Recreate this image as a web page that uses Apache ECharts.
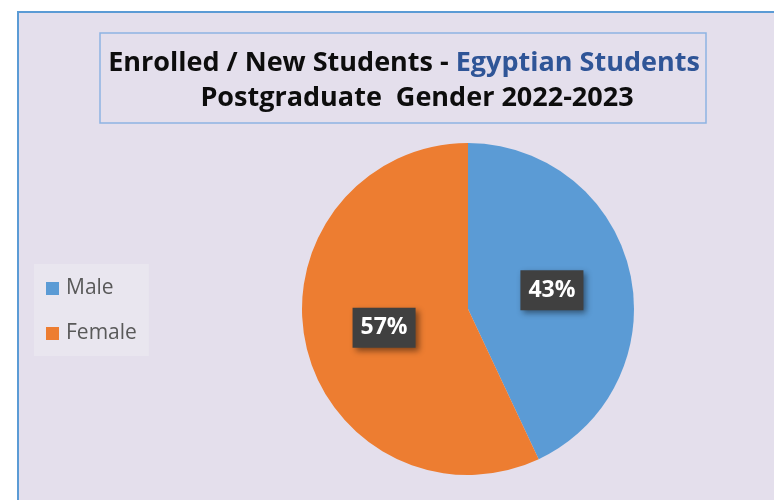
<!DOCTYPE html>
<html>
<head>
<meta charset="utf-8">
<script src="https://cdn.jsdelivr.net/npm/echarts@6/dist/echarts.min.js"></script>
<style>
  html, body { margin: 0; padding: 0; background: #ffffff; }
  #chart { width: 774px; height: 500px; }
</style>
</head>
<body>
<div id="chart"></div>
<script>
(function() {
  var categories = ['Male', 'Female'];
  var shares = [43, 57];
  var colors = ['#5B9BD5', '#ED7D31'];

  var chart = echarts.init(document.getElementById('chart'));

  var titleFont = { fontFamily: 'Open Sans', fontWeight: 'bold', fontSize: 27, color: '#0D0D0D', lineHeight: 37 };

  chart.setOption({
    backgroundColor: '#ffffff',
    animation: false,
    graphic: [
      {
        type: 'rect',
        z: -10,
        shape: { x: 18, y: 12, width: 800, height: 600 },
        style: { fill: '#E4DFEC', stroke: '#5B9BD5', lineWidth: 2 }
      },
      {
        type: 'rect',
        z: -5,
        shape: { x: 100, y: 33, width: 606, height: 90 },
        style: { fill: '#E4DFEC', stroke: '#8DB4E2', lineWidth: 1.5 }
      }
    ],
    title: [
      {
        left: 399,
        top: 40,
        textAlign: 'center',
        text: '{a|Enrolled / New Students - }{b|Egyptian Students}',
        textStyle: {
          rich: {
            a: titleFont,
            b: Object.assign({}, titleFont, { color: '#2F5597' })
          }
        }
      },
      {
        left: 412,
        top: 75,
        textAlign: 'center',
        text: 'Postgraduate  Gender 2022-2023',
        textStyle: titleFont
      }
    ],
    legend: {
      orient: 'vertical',
      left: 34,
      top: 264,
      data: categories,
      icon: 'rect',
      itemWidth: 13,
      itemHeight: 13,
      itemGap: 24,
      padding: [14, 12, 12, 12],
      backgroundColor: '#E9E6EF',
      textStyle: { fontFamily: 'Open Sans', fontSize: 21, color: '#595959', padding: [0, 0, 0, 2] }
    },
    series: [
      {
        type: 'pie',
        center: [468, 309],
        radius: 166,
        startAngle: 90,
        clockwise: true,
        silent: true,
        data: categories.map(function(name, i) {
          return { name: name, value: shares[i], itemStyle: { color: colors[i] } };
        }),
        label: {
          show: true,
          position: 'inside',
          formatter: '{c}%',
          color: '#ffffff',
          fontFamily: 'Open Sans',
          fontWeight: 'bold',
          fontSize: 23,
          lineHeight: 26,
          backgroundColor: '#404040',
          padding: [7, 8, 7, 8],
          shadowBlur: 6,
          shadowColor: 'rgba(0,0,0,0.45)',
          shadowOffsetX: 3,
          shadowOffsetY: 3
        },
        labelLine: { show: false }
      }
    ]
  });

  window.addEventListener('resize', function() { chart.resize(); });
})();
</script>
</body>
</html>
